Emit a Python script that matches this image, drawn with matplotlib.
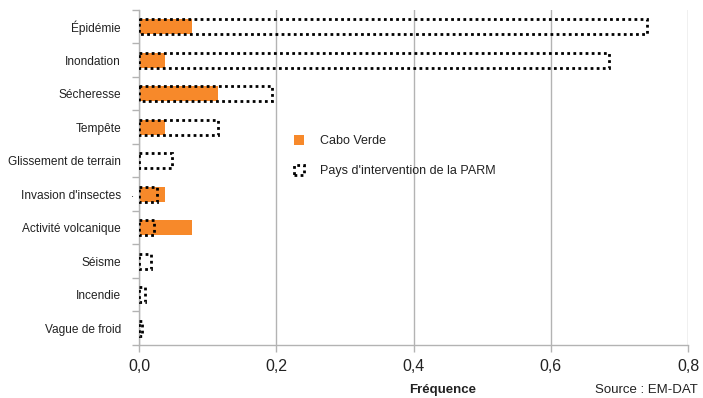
import numpy as np
import matplotlib.pyplot as plt
from matplotlib.patches import Patch

plt.rcParams['font.family'] = ['Liberation Sans', 'DejaVu Sans']

categories = ['Épidémie', 'Inondation', 'Sécheresse', 'Tempête', 'Glissement de terrain',
              "Invasion d'insectes", 'Activité volcanique', 'Séisme', 'Incendie', 'Vague de froid']
cabo_verde = [0.077, 0.038, 0.115, 0.038, 0.0, 0.038, 0.077, 0.0, 0.0, 0.0]
parm = [0.740, 0.685, 0.194, 0.115, 0.048, 0.026, 0.022, 0.017, 0.009, 0.004]
xticks = [0.0, 0.2, 0.4, 0.6, 0.8]
xticklabels = ['0,0', '0,2', '0,4', '0,6', '0,8']

orange = '#f7892a'
grid_col = '#b3b3b3'

fig = plt.figure(figsize=(7.03, 3.98), dpi=100)
ax = fig.add_axes([0.1977, 0.1332, 0.781, 0.8418])

y = np.arange(len(categories))
h = 0.44
ax.barh(y, cabo_verde, height=h, color=orange, zorder=2)
ax.barh(y, parm, height=h, facecolor='none', edgecolor='black',
        linewidth=2.0, linestyle=(0, (1, 1.2)), zorder=3)

ax.set_ylim(len(categories) - 0.5, -0.5)
ax.set_xlim(0, 0.8)
ax.set_yticks(y)
ax.set_yticklabels(categories, fontsize=8.6, color='#222222')
ax.set_yticks(np.arange(-0.5, len(categories)), minor=True)
ax.tick_params(axis='y', which='major', length=0, pad=13)
ax.tick_params(axis='y', which='minor', length=5, color=grid_col, width=1)
ax.set_xticks(xticks)
ax.set_xticklabels(xticklabels, fontsize=11.5, color='#222222')
ax.tick_params(axis='x', length=5, color=grid_col, width=1, pad=5)

ax.grid(axis='x', color=grid_col, linewidth=1, zorder=0)
for s in ['top', 'right']:
    ax.spines[s].set_visible(False)
for s in ['left', 'bottom']:
    ax.spines[s].set_color(grid_col)
    ax.spines[s].set_linewidth(1)

handles = [Patch(facecolor=orange, edgecolor='none'),
           Patch(facecolor='none', edgecolor='black', linewidth=2.0, linestyle=(0, (1, 1.2)))]
leg = ax.legend(handles, ['Cabo Verde', "Pays d'intervention de la PARM"],
                loc='upper left', bbox_to_anchor=(0.262, 0.66), frameon=False,
                fontsize=9, handlelength=0.8, handleheight=0.8, labelspacing=1.45,
                handletextpad=1.3)
for t in leg.get_texts():
    t.set_color('#222222')

fig.text(0.630, 0.004, 'Fréquence', ha='center', va='bottom', fontsize=9.5,
         fontweight='bold', color='#222222')
fig.text(0.992, 0.004, 'Source : EM-DAT', ha='right', va='bottom', fontsize=9.5, color='#222222')
fig.text(0.189, 0.512, '.', ha='center', va='center', fontsize=8, color='#222222')

fig.savefig('out.png', dpi=100)
